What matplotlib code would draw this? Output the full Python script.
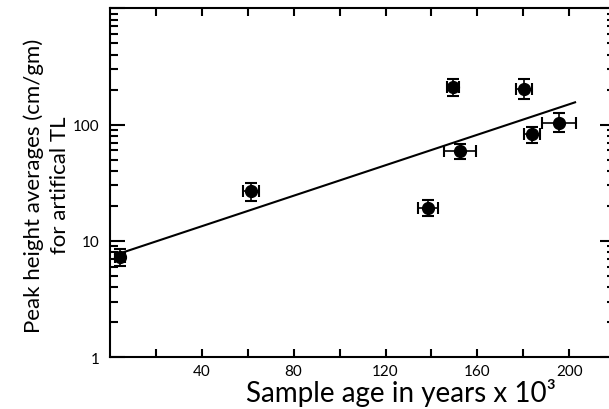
import matplotlib.pyplot as plt
from matplotlib.ticker import FixedLocator, LogLocator, NullFormatter, FuncFormatter

# sample age (x 10^3 years) and peak height averages
age = [4.4, 61.3, 138.4, 149.5, 152.4, 180.4, 183.6, 195.6]
age_err = [2.0, 3.5, 4.3, 2.7, 7.0, 3.4, 3.5, 7.3]
peak = [7.2, 26.8, 19.0, 209.4, 58.9, 202.4, 83.0, 102.6]
peak_lo = [6.1, 22.1, 16.3, 175.2, 50.6, 166.0, 69.0, 85.9]
peak_hi = [8.5, 31.4, 22.6, 246.8, 68.1, 246.8, 95.9, 125.0]

# exponential fit line end points
fit_x = [2.3, 202.5]
fit_y = [7.55, 155.6]

x_labels = {40: "40", 80: "80", 120: "120", 160: "160", 200: "200"}

plt.rcParams["font.family"] = ["Lato", "DejaVu Sans"]

fig = plt.figure(figsize=(6.09, 4.10), dpi=100)
ax = fig.add_axes([0.1803, 0.1268, 0.830, 0.8502])

yerr = [[p - lo for p, lo in zip(peak, peak_lo)], [hi - p for p, hi in zip(peak, peak_hi)]]
ax.errorbar(age, peak, xerr=age_err, yerr=yerr, fmt="o", color="black",
            markersize=8.5, elinewidth=1.2, capsize=4.5, capthick=1.5, zorder=3)
ax.plot(fit_x, fit_y, color="black", linewidth=1.5)

ax.set_yscale("log")
ax.set_xlim(0, 220)
ax.set_ylim(1, 1000)

ax.xaxis.set_major_locator(FixedLocator(range(20, 220, 20)))
ax.xaxis.set_major_formatter(FuncFormatter(lambda v, p: x_labels.get(int(round(v)), "")))
ax.yaxis.set_major_locator(LogLocator(base=10, numticks=10))
ax.yaxis.set_minor_locator(LogLocator(base=10, subs=range(2, 10), numticks=20))
ax.yaxis.set_minor_formatter(NullFormatter())
ax.yaxis.set_major_formatter(FuncFormatter(lambda v, p: "" if v > 500 else "%g" % v))

ax.tick_params(axis="x", which="both", direction="in", top=True, length=6, width=1.5,
               labelsize=11, pad=5)
ax.tick_params(axis="y", which="major", direction="in", right=True, length=11, width=1.5,
               labelsize=11, pad=7.5)
ax.tick_params(axis="y", which="minor", direction="in", right=True, length=6, width=1.5)

for s in ["left", "bottom", "top"]:
    ax.spines[s].set_linewidth(1.5)
ax.spines["right"].set_visible(False)

ax.set_xlabel("Sample age in years x 10³", fontsize=20)
ax.xaxis.label.set_verticalalignment("baseline")
ax.xaxis.set_label_coords(0.576, -0.127)
ax.set_ylabel("Peak height averages (cm/gm)\nfor artifical TL", fontsize=16,
              linespacing=1.4)
ax.yaxis.set_label_coords(-0.078, 0.495)

fig.savefig("out.png", dpi=100)
